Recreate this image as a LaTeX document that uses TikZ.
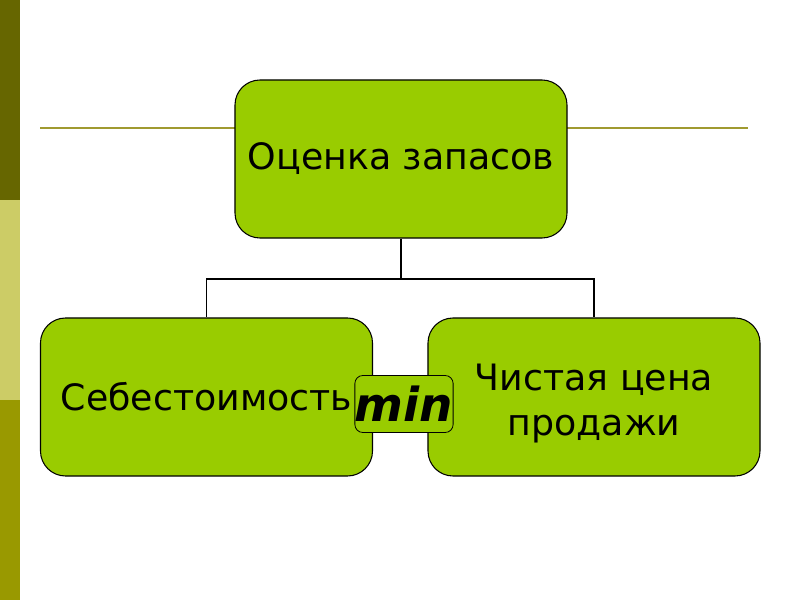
\documentclass[tikz,border=0pt]{standalone}
\usepackage{fontspec}
\setmainfont{DejaVu Sans}
\usetikzlibrary{positioning}

\definecolor{boxgreen}{RGB}{153,204,0}
\definecolor{darkolive}{RGB}{102,102,0}
\definecolor{paleolive}{RGB}{204,204,102}
\definecolor{midolive}{RGB}{153,153,0}
\definecolor{ruleolive}{RGB}{160,154,48}

\tikzset{
  box/.style={draw,line width=0.9pt,fill=boxgreen,rounded corners=0.75cm,
    minimum width=9.96cm,minimum height=4.74cm,align=center,
    font=\fontsize{31}{38}\selectfont},
  minbox/.style={draw,line width=0.7pt,fill=boxgreen,rounded corners=0.24cm,
    minimum width=2.82cm,minimum height=1.71cm,inner sep=0pt,
    font=\fontsize{40}{46}\selectfont\bfseries\itshape},
  link/.style={line width=1.6pt}
}

\begin{document}
\begin{tikzpicture}[x=0.03cm,y=-0.03cm]
  \useasboundingbox (0,0) rectangle (800,600);
  % side stripes
  \fill[darkolive] (0,0) rectangle (20,200);
  \fill[paleolive] (0,200) rectangle (20,400);
  \fill[midolive] (0,400) rectangle (20,600);
  \draw[ruleolive,line width=1.6pt] (40,128) -- (748,128);

  \node [box] (top) at (401,159) {Оценка запасов};
  \node [box] (cost) at (206.5,397) {Себестоимость};
  \node [box] (net) at (594,397) {\rule{0pt}{34pt}Чистая цена\\продажи};
  \coordinate (split) at (401,279);

  \draw [link] (top) -- (split) -| (cost);
  \draw [link] (split) -| (net);

  \node [minbox] (min) at (404,404) {min};
\end{tikzpicture}
\end{document}
